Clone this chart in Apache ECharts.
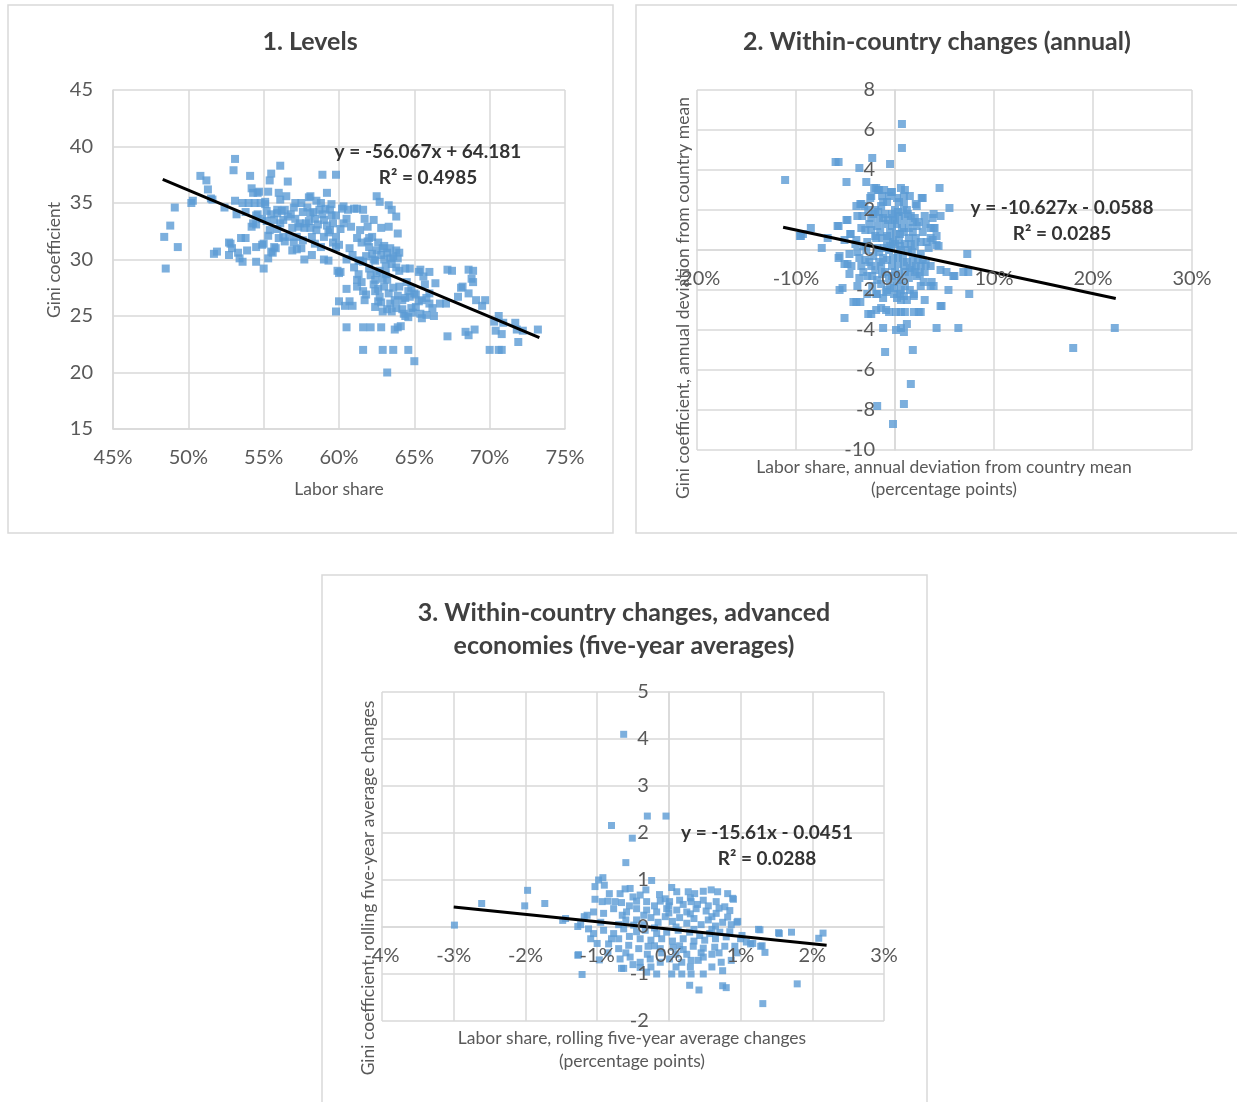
<!DOCTYPE html>
<html>
<head>
<meta charset="utf-8">
<title>Labor share and inequality</title>
<script src="https://cdn.jsdelivr.net/npm/echarts@6/dist/echarts.min.js"></script>
<style>
  html, body { margin: 0; padding: 0; background: #ffffff; }
  #chart { width: 1237px; height: 1102px; }
</style>
</head>
<body>
<div id="chart"></div>
<script>
// ---- Panel 1: levels (labor share %, Gini coefficient) ----
const levelsPoints = [
  [48.4,32.0],[48.5,29.2],[48.8,33.0],[49.1,34.6],[49.3,31.1],[50.2,35.0],[50.3,35.2],[50.8,37.4],[51.2,37.0],[51.3,36.2],
  [51.5,35.4],[51.6,35.3],[51.7,30.5],[51.9,30.7],[52.4,34.6],[52.7,31.5],[52.7,30.4],[52.8,31.4],[52.9,31.0],[53.1,38.9],
  [53.0,37.9],[53.1,35.2],[53.2,34.0],[53.3,30.6],[53.4,30.1],[53.5,31.9],[53.6,29.8],[53.8,31.9],[53.9,30.8],[53.6,35.0],
  [54.0,35.0],[54.4,35.0],[54.8,35.0],[55.1,35.1],[53.8,34.2],[54.1,37.4],[54.2,36.3],[54.3,35.9],[54.6,35.9],[54.2,32.9],
  [54.3,33.2],[54.5,33.9],[54.5,33.1],[54.5,31.1],[54.5,29.8],[54.6,34.0],[54.7,36.0],[54.9,31.3],[55.0,29.2],[55.0,31.4],
  [55.1,34.9],[55.2,34.3],[55.3,30.1],[55.3,32.1],[55.3,36.0],[55.4,37.0],[55.5,37.6],[55.4,32.6],[55.5,30.7],[55.6,30.6],
  [55.7,31.1],[55.7,33.5],[55.8,31.0],[55.9,34.1],[55.9,34.4],[56.1,38.3],[56.0,35.9],[56.1,35.3],[56.0,31.9],[56.1,33.2],
  [56.2,34.3],[56.3,32.0],[56.3,33.5],[56.4,34.4],[56.5,35.6],[56.6,36.9],[56.7,32.0],[56.9,32.8],[56.9,30.8],[57.0,34.6],
  [57.1,35.0],[57.1,33.6],[57.2,30.9],[57.2,32.0],[57.3,32.9],[57.4,33.2],[57.5,31.0],[57.6,31.7],[57.7,30.0],[57.7,32.8],
  [57.8,33.2],[58.0,35.5],[58.1,35.6],[58.1,34.1],[58.1,32.8],[58.2,30.4],[58.2,32.0],[58.3,34.2],[58.4,33.6],[58.4,31.4],
  [58.5,32.6],[58.7,34.4],[58.8,31.1],[58.9,37.5],[59.0,30.0],[59.0,32.0],[59.0,33.5],[59.1,34.5],[59.2,35.9],[59.3,29.9],
  [59.4,34.4],[59.4,32.6],[59.5,33.9],[59.6,33.2],[59.8,37.5],[59.8,32.0],[59.8,31.1],[59.8,33.9],[60.0,31.3],[59.9,29.0],
  [60.0,28.8],[60.1,28.9],[60.0,26.3],[59.8,25.4],[60.2,34.5],[60.3,34.7],[60.3,33.2],[60.5,33.6],[60.4,25.9],[60.5,27.4],
  [60.5,24.0],[60.5,30.0],[60.7,31.0],[60.7,26.3],[60.9,25.9],[61.0,29.3],[61.2,34.5],[61.2,27.6],[61.2,28.2],[61.3,28.7],
  [61.4,32.6],[61.4,29.9],[61.6,34.4],[61.6,29.8],[61.6,27.2],[61.7,26.4],[61.6,24.0],[61.6,22.0],[61.8,26.9],[62.0,31.9],
  [62.0,31.1],[62.1,24.0],[62.2,32.0],[62.3,33.5],[62.4,28.2],[62.4,27.2],[62.4,29.9],[62.5,35.6],[62.5,30.8],[62.5,28.8],
  [62.6,26.3],[62.7,35.1],[62.7,26.7],[62.8,24.0],[62.9,31.0],[62.9,28.3],[62.9,25.4],[62.9,22.0],[63.0,27.6],[63.1,28.7],
  [63.2,20.0],[63.3,34.8],[63.3,32.9],[63.3,27.0],[63.4,30.1],[63.4,26.1],[63.5,34.4],[63.5,25.4],[63.6,22.0],[63.7,23.8],
  [63.8,33.8],[63.8,30.8],[63.8,29.3],[63.8,25.7],[63.9,32.3],[63.9,30.1],[63.9,24.0],[64.0,27.6],[64.1,24.1],[64.2,26.4],
  [64.3,25.2],[64.6,24.9],[64.6,22.0],[64.6,27.2],[64.7,29.2],[64.7,26.7],[64.8,25.7],[65.0,21.0],[65.1,26.9],[65.3,28.9],
  [65.3,26.3],[65.4,29.1],[65.4,25.2],[65.6,28.5],[65.7,27.8],[65.8,25.1],[66.0,28.9],[66.0,26.1],[66.2,25.7],[66.4,27.9],
  [66.7,26.1],[67.1,26.1],[67.2,29.1],[67.2,23.2],[67.5,29.0],[67.9,26.7],[68.1,27.5],[68.2,27.6],[68.4,23.6],[68.6,29.1],
  [68.6,27.0],[68.6,23.3],[68.8,28.3],[68.9,29.0],[68.9,28.0],[69.0,23.8],[69.1,26.4],[69.5,25.9],[69.7,26.4],[70.0,22.0],
  [70.3,24.5],[70.4,23.7],[70.6,25.0],[70.6,22.0],[70.8,22.0],[70.8,23.4],[70.9,24.4],[71.7,24.4],[71.8,23.8],[71.9,22.7],
  [72.2,23.7],[73.2,23.8],
  [62.2,30.5],[62.8,30.4],[63.0,31.2],[63.2,30.6],[63.5,29.6],[63.1,29.4],[62.7,29.0],[63.6,27.5],[63.9,26.8],[62.3,27.8],
  [62.6,27.4],[62.8,26.2],[63.2,25.6],[64.2,25.6],[64.4,25.0],[64.9,25.3],[65.1,25.8],[65.5,26.4],[65.0,27.0],[64.5,28.0],
  [61.8,30.3],[61.5,31.5],[61.9,32.9],[61.2,31.9],[58.6,33.1],[58.9,34.0],[59.2,33.0],[58.0,33.4],[57.6,34.2],[59.6,31.5],
  [55.5,34.0],[54.9,33.6],[55.9,32.7],[56.6,33.8],[57.5,35.0],[58.5,35.2],[59.5,34.9],[60.6,34.4],[61.0,34.5],[60.1,32.7],
  [60.8,32.9],[62.3,30.0],[63.4,31.0],[64.0,30.6],[62.0,29.2],[61.3,29.9],[61.5,28.0],[62.8,32.8],[64.0,29.0],[64.4,26.6],
  [65.5,24.8],[66.3,25.0],[66.0,27.0],
  [56.8,34.0],[57.9,34.6],[58.8,35.0],[59.3,32.4],[57.0,31.5],[55.2,33.4],[56.4,31.6],[62.6,31.5],[63.0,30.0],[63.6,30.3],
  [62.1,28.6],[63.2,28.2],[63.7,26.4],[64.8,27.5],[65.8,26.6],[64.4,29.2],[62.4,25.8],[61.9,31.6],[60.9,30.4],[61.7,33.6]
];
const levelsFit = [-56.067, 64.181, 0.4985];   // slope (per unit share), intercept, R²
const levelsFitRange = [48.3, 73.3];            // labor share, %

// ---- Panel 2: annual deviations from country mean (labor share pp, Gini) ----
const annualPoints = [
  [-11.1,3.5],[-9.6,0.7],[-9.3,0.8],[-8.5,1.1],[-7.4,0.1],[-6.8,0.6],[-6.0,4.4],[-5.7,4.4],[-5.8,1.2],[-5.7,-0.4],
  [-5.6,-2.0],[-5.3,-1.9],[-5.1,-3.4],[-4.9,3.4],[-4.9,1.5],[-4.8,-0.7],[-4.5,0.8],[-4.2,-2.6],[-3.9,2.2],[-3.6,4.1],
  [-3.9,-2.6],[-3.5,-2.6],[-3.5,2.3],[-2.9,3.4],[-2.7,-3.2],[-2.5,2.6],[-2.3,4.6],[-2.1,3.1],[-1.8,-7.8],[-1.7,3.0],
  [-1.2,-3.9],[-1.0,-5.1],[-0.5,4.3],[-0.4,2.9],[-0.2,-8.7],[0.1,-4.0],[0.7,6.3],[0.7,5.1],[0.6,3.1],[0.9,-7.7],
  [0.9,-4.1],[1.0,3.0],[1.2,-3.7],[1.6,-6.7],[1.8,-5.0],[1.9,-2.3],[2.4,-3.1],[2.7,2.6],[3.0,-2.5],[3.6,-1.8],
  [4.2,-3.9],[4.5,3.1],[4.6,1.7],[4.7,-2.8],[5.4,-2.0],[5.5,2.1],[6.0,-1.3],[6.4,-3.9],[7.3,-0.2],[7.5,-2.2],
  [7.4,-1.1],[4.0,1.1],[3.8,0.5],[18.0,-4.9],[22.2,-3.9],
  [-1.9,3.1],[-1.6,3.0],[-1.1,3.0],[-0.3,2.9],[-2.4,2.7],[-1.3,2.7],[-0.6,2.7],[0.2,2.6],[0.9,2.7],[2.8,2.6],
  [-3.4,2.3],[-3.1,2.2],[-1.4,2.2],[-0.8,2.4],[0.9,2.3],[2.1,2.3],[2.2,2.2],[-3.8,1.7],[-3.3,1.7],[-2.4,1.6],
  [-1.6,1.6],[-0.3,1.8],[0.4,1.7],[1.2,2.0],[1.6,1.7],[3.0,1.7],[3.9,1.8],[3.8,1.6],[-4.8,1.5],[-5.7,1.2],
  [-9.5,0.7],[-4.5,0.8],[-3.4,1.1],[-2.4,1.0],[-1.8,1.2],[-1.0,1.3],[-0.3,1.2],[0.2,1.3],[0.7,1.1],[1.4,1.1],
  [2.2,1.2],[3.1,1.3],[3.6,1.1],[3.9,1.1],[-5.1,0.5],[-3.9,0.5],[-2.8,0.4],[-1.9,0.6],[-0.8,0.7],[0.4,0.5],
  [1.4,0.6],[2.6,0.4],[3.6,0.6],[4.2,0.25],[4.4,0.2],[4.2,0.7],[-5.6,-0.3],[-4.6,-0.2],[-3.8,-0.1],[-2.9,0.0],
  [-1.8,0.1],[-0.6,0.0],[0.6,0.0],[1.7,-0.1],[2.6,-0.2],[3.4,0.1],[-5.1,-0.7],[-4.4,-0.8],[-3.4,-0.8],[-2.4,-0.8],
  [-1.4,-0.8],[-0.3,-0.8],[0.9,-0.8],[1.7,-0.9],[2.6,-0.8],[3.6,-0.8],[4.6,-1.0],[5.2,-1.1],[5.9,-1.3],[6.9,-1.1],
  [-4.6,-1.2],[-3.6,-1.4],[-2.8,-1.3],[-1.8,-1.5],[-0.6,-1.4],[0.6,-1.5],[1.4,-1.4],[2.2,-1.3],[2.9,-1.6],[3.7,-1.6],
  [3.9,-1.8],[-3.8,-1.8],[-1.9,-2.2],[-0.9,-2.1],[0.6,-2.0],[1.9,-2.2],[-2.4,-3.2],[-1.9,-3.0],[-1.4,-2.9],[-0.9,-3.0],
  [-0.6,-3.1],[0.1,-3.1],[0.6,-3.1],[1.0,-3.1],[1.9,-3.1],[2.6,-3.1],[0.6,-3.9],[4.6,-2.8],[0.2,-2.4],[0.6,-2.5],
  [0.9,-2.3],[1.2,-2.5],[0.5,-2.2],[-0.1,-2.2],[-0.8,-2.0],[-1.8,-2.2],[-2.3,-1.8],[-1.4,-1.7],
  [-2.0,2.0],[-1.0,1.8],[0.0,2.0],[1.0,1.5],[2.0,1.6],[-2.6,1.3],[-1.5,0.9],[-0.5,0.9],[0.5,0.8],[1.0,0.3],
  [1.8,0.9],[2.8,0.9],[-3.2,0.2],[-2.2,-0.3],[-1.2,-0.4],[-0.2,-0.4],[0.8,-0.4],[1.8,-0.5],[2.8,-0.5],[-2.0,-1.0],
  [-1.0,-1.1],[0.0,-1.1],[1.0,-1.1],[2.0,-1.1],[-0.2,0.4],[0.0,1.5],[-1.2,2.4],[0.4,2.4],[1.5,2.7],[-0.5,-1.8],
  [0.2,-1.6],[1.0,-1.8],[-3.0,-0.5],[-4.0,0.3],[3.0,-1.1],[-0.8,0.2],[0.3,-0.7],[1.3,0.0],[2.3,-0.4],[-1.6,-0.1],
  [-2.7,2.0],[-2.2,1.8],[-1.7,1.9],[-1.2,1.6],[-0.7,1.5],[-0.2,1.6],[0.3,1.9],[0.8,1.9],[1.3,1.8],[1.8,1.4],
  [2.4,1.4],[-3.0,1.0],[-2.0,0.7],[-1.3,0.6],[-0.5,0.5],[0.1,0.8],[0.9,0.9],[1.6,0.3],[2.1,0.6],[3.2,0.4],
  [-3.6,-0.4],[-2.6,-0.6],[-1.6,-0.6],[-0.8,-0.5],[0.3,-0.3],[1.2,-0.6],[2.1,-0.8],[3.1,-0.7],[-3.2,-1.1],[-2.3,-1.3],
  [-1.3,-1.2],[-0.3,-1.3],[0.4,-1.2],[1.5,-1.0],[2.5,-1.2],[-0.1,-1.9],[-1.2,-2.4],[-2.8,-2.2],[1.5,-2.0],[2.6,-1.8],
  [0.0,0.3],[-0.4,0.1],[0.5,0.2],[-1.1,0.1],[2.0,0.2]
];
const annualFit = [-10.627, -0.0588, 0.0285];
const annualFitRange = [-11.3, 22.3];

// ---- Panel 3: advanced economies, rolling five-year average changes ----
const fiveYearPoints = [
  [-2.99,0.04],[-2.61,0.50],[-2.01,0.45],[-1.97,0.78],[-1.73,0.50],[-1.48,0.14],[-1.27,0.01],[-1.27,-0.60],[-1.21,-1.01],[-1.18,0.22],
  [-0.80,2.16],[-0.63,4.10],[-0.51,1.89],[-0.30,2.36],[-0.04,2.36],[-0.24,0.99],[-0.60,1.37],[1.02,-0.18],[1.17,-0.35],[1.27,-0.06],
  [1.54,-0.14],[1.71,-0.11],[1.79,-1.21],[2.09,-0.24],[2.15,-0.13],[1.31,-1.63],[1.34,-0.54],[0.95,0.10],[0.90,0.59],[1.30,-0.40],
  [-1.03,0.86],[-0.98,1.00],[-0.92,1.05],[-0.90,0.89],[-0.83,0.71],[-0.68,0.71],[-0.61,0.81],[-0.54,0.82],[-0.50,0.64],[-0.40,0.68],
  [-0.32,0.79],[-0.13,0.69],[0.04,0.84],[0.11,0.75],[0.27,0.75],[0.36,0.71],[0.48,0.76],[0.59,0.79],[0.68,0.75],[0.82,0.71],
  [0.89,0.61],[-1.03,0.59],[-0.93,0.54],[-0.75,0.54],[-0.66,0.52],[-0.45,0.55],[-0.31,0.54],[-0.12,0.55],[0.01,0.54],[0.15,0.57],
  [0.31,0.54],[0.48,0.57],[0.66,0.54],[0.78,0.43],[-1.23,0.05],[-1.14,0.25],[-1.05,0.32],[-0.91,0.29],[-0.77,0.39],[-0.59,0.32],
  [-0.45,0.39],[-0.31,0.36],[-0.17,0.32],[-0.03,0.39],[0.11,0.36],[0.25,0.32],[0.38,0.39],[0.52,0.34],[0.66,0.29],[0.82,0.21],
  [0.96,0.12],[0.87,0.05],[-1.44,0.18],[-1.12,-0.04],[-1.09,-0.25],[-1.05,-0.14],[-0.91,-0.07],[-0.77,-0.14],[-0.63,-0.04],[-0.49,0.04],
  [-0.33,-0.07],[-0.17,-0.14],[-0.03,-0.11],[0.13,-0.07],[0.29,-0.11],[0.43,-0.18],[0.57,-0.14],[0.71,-0.11],[0.80,-0.21],[1.25,-0.05],
  [1.53,-0.12],[-0.84,-0.36],[-0.70,-0.46],[-0.56,-0.39],[-0.42,-0.46],[-0.29,-0.41],[-0.12,-0.46],[0.06,-0.43],[0.20,-0.48],[0.34,-0.41],
  [0.48,-0.45],[0.64,-0.43],[0.78,-0.41],[0.92,-0.41],[1.08,-0.32],[1.14,-0.36],[1.28,-0.41],[-1.26,-0.59],[-0.97,-0.70],[-0.68,-0.68],
  [-0.54,-0.64],[-0.40,-0.75],[-0.26,-0.68],[-0.12,-0.75],[0.01,-0.68],[0.18,-0.75],[0.31,-0.71],[0.48,-0.64],[0.41,-0.71],[0.73,-0.75],
  [0.87,-0.71],[-0.66,-0.88],[-0.63,-0.88],[-0.40,-0.86],[-0.31,-0.96],[-0.17,-1.00],[0.04,-1.00],[0.18,-1.00],[0.31,-1.00],[0.48,-1.00],
  [0.75,-0.93],[0.29,-1.24],[0.42,-1.34],[0.75,-1.25],[0.80,-1.29],
  [-0.45,0.15],[-0.35,0.05],[-0.25,0.20],[-0.15,0.10],[-0.05,0.22],[0.05,0.12],[0.15,0.20],[0.25,0.08],[0.35,0.18],[0.45,0.05],
  [0.55,0.15],[0.65,0.02],[-0.55,-0.20],[-0.40,-0.25],[-0.25,-0.28],[-0.10,-0.25],[0.05,-0.30],[0.20,-0.25],[0.35,-0.30],[0.50,-0.28],
  [0.65,-0.25],[-0.20,0.45],[0.00,0.45],[0.20,0.48],[0.40,0.48],[-0.60,0.15],[-0.70,0.05],[-0.80,-0.25],[-0.95,0.10],[0.75,0.10],
  [-0.10,-0.55],[0.10,-0.58],[0.25,-0.58],[-0.30,-0.58],[0.60,-0.58],[-0.50,-0.80],[0.10,-0.85],
  [-0.85,0.55],[-0.55,0.45],[-0.05,0.60],[0.30,0.62],[0.55,0.45],[0.70,0.40],[-0.65,0.25],[-0.35,0.25],[0.00,0.30],[0.30,0.28],
  [0.60,0.22],[0.85,0.35],[-1.00,-0.35],[-0.70,-0.25],[-0.45,-0.10],[-0.20,-0.02],[0.10,0.00],[0.35,-0.05],[0.60,-0.05],[0.85,-0.10],
  [1.00,-0.25],[-0.60,-0.55],[-0.20,-0.40],[0.15,-0.40],[0.45,-0.55],[0.70,-0.55],[0.95,-0.55],[-0.85,-0.55],[-0.25,-0.85],[0.30,-0.85],
  [0.60,-0.85]
];
const fiveYearFit = [-15.61, -0.0451, 0.0288];
const fiveYearFitRange = [-3.0, 2.2];

// ---- axis ranges (min, max, step) ----
const levelsX = [45, 75, 5],    levelsY = [15, 45, 5];
const annualX = [-20, 30, 10],  annualY = [-10, 8, 2];
const fiveYearX = [-4, 3, 1],   fiveYearY = [-2, 5, 1];

// ---- styling ----
const FONT = 'Lato, "Open Sans", sans-serif';
const MARKER = '#5b9bd5';
const GRID_LINE = '#d9d9d9';
const LABEL = '#595959';
const TITLE = '#404040';
const EQ = '#333333';

// plot rectangles for the three panels
const grids = [
  { left: 113, top: 90, width: 452, height: 339 },
  { left: 697, top: 90, width: 495, height: 360 },
  { left: 382, top: 692, width: 502, height: 329 }
];

// Regression line end points; x is in percent, the fit uses shares.
function fitLine(fit, range) {
  return range.map(x => [x, fit[0] * x / 100 + fit[1]]);
}
function fitText(fit) {
  const b = fit[1] < 0 ? ' - ' + Math.abs(fit[1]) : ' + ' + fit[1];
  return ['y = ' + fit[0] + 'x' + b, 'R\u00b2 = ' + fit[2]];
}

// Pixel shift that puts an axis on the zero of the crossing axis
// (0 when zero lies outside the range: axis stays on the plot edge).
function zeroShift(len, range) {
  const [min, max] = range;
  if (min > 0 || max < 0) return 0;
  return -len * (0 - min) / (max - min);
}

const lineStyle = { color: GRID_LINE, width: 1.5 };
const labelStyle = { color: LABEL, fontFamily: FONT, fontSize: 20 };

// Axis carrying the grid lines and the axis line (drawn under the marks)
function baseAxis(dim, gridIndex, range, offset) {
  return {
    type: 'value', gridIndex, min: range[0], max: range[1], interval: range[2],
    position: dim === 'x' ? 'bottom' : 'left', offset,
    axisLine: { show: true, onZero: false, lineStyle },
    axisTick: { show: false },
    splitLine: { show: true, lineStyle },
    axisLabel: { show: false },
    z: 0
  };
}
// Axis carrying only the tick labels (drawn above the marks)
function labelAxis(dim, gridIndex, range, offset) {
  return {
    type: 'value', gridIndex, min: range[0], max: range[1], interval: range[2],
    position: dim === 'x' ? 'bottom' : 'left', offset,
    axisLine: { show: false, onZero: false },
    axisTick: { show: false },
    splitLine: { show: false },
    axisLabel: Object.assign({}, labelStyle, dim === 'x'
      ? { margin: 19, formatter: v => v + '%' }
      : { margin: 20 }),
    z: 10
  };
}

const panels = [
  { x: levelsX, y: levelsY },
  { x: annualX, y: annualY },
  { x: fiveYearX, y: fiveYearY }
];
const xAxes = [], yAxes = [];
panels.forEach((p, i) => {
  const g = grids[i];
  const xOff = zeroShift(g.height, p.y);
  const yOff = zeroShift(g.width, p.x);
  xAxes[i] = baseAxis('x', i, p.x, xOff);
  yAxes[i] = baseAxis('y', i, p.y, yOff);
  xAxes[i + 3] = labelAxis('x', i, p.x, xOff);
  yAxes[i + 3] = labelAxis('y', i, p.y, yOff);
});

function scatter(idx, data, size) {
  return {
    type: 'scatter', xAxisIndex: idx, yAxisIndex: idx, data,
    symbol: 'rect', symbolSize: size,
    itemStyle: { color: MARKER }, z: 2
  };
}
function trend(idx, fit, range) {
  return {
    type: 'line', xAxisIndex: idx, yAxisIndex: idx, data: fitLine(fit, range),
    symbol: 'none', lineStyle: { color: '#000000', width: 3 }, z: 3
  };
}

function frame(x, y, w, h) {
  return { type: 'rect', shape: { x, y, width: w, height: h },
           style: { fill: null, stroke: GRID_LINE, lineWidth: 1.5 }, silent: true, z: -1 };
}
function text(x, y, str, opts) {
  return {
    type: 'text', x, y, rotation: (opts && opts.rotation) || 0, silent: true, z: 20,
    style: {
      text: str, textAlign: 'center', textVerticalAlign: 'middle',
      font: (opts && opts.font) || ('17.5px ' + FONT),
      fill: (opts && opts.color) || LABEL
    }
  };
}

const titleFont = 'bold 25px ' + FONT;
const eqFont = 'bold 19px ' + FONT;
const nameFont = '17.5px ' + FONT;
const eq1 = fitText(levelsFit), eq2 = fitText(annualFit), eq3 = fitText(fiveYearFit);

const chart = echarts.init(document.getElementById('chart'), null, { renderer: 'canvas' });
chart.setOption({
  animation: false,
  backgroundColor: '#ffffff',
  grid: grids,
  xAxis: xAxes,
  yAxis: yAxes,
  series: [
    scatter(0, levelsPoints, 8), trend(0, levelsFit, levelsFitRange),
    scatter(1, annualPoints, 8), trend(1, annualFit, annualFitRange),
    scatter(2, fiveYearPoints, 7), trend(2, fiveYearFit, fiveYearFitRange)
  ],
  graphic: [
    frame(8, 5, 605, 528),
    frame(636, 5, 610, 528),
    frame(322, 575, 605, 540),
    text(310, 42, '1. Levels', { font: titleFont, color: TITLE }),
    text(937, 42, '2. Within-country changes (annual)', { font: titleFont, color: TITLE }),
    text(624, 613, '3. Within-country changes, advanced', { font: titleFont, color: TITLE }),
    text(624, 646, 'economies (five-year averages)', { font: titleFont, color: TITLE }),
    text(339, 489, 'Labor share', { font: nameFont }),
    text(54, 260, 'Gini coefficient', { font: nameFont, rotation: Math.PI / 2 }),
    text(944, 467, 'Labor share, annual deviation from country mean', { font: nameFont }),
    text(944, 489, '(percentage points)', { font: nameFont }),
    text(683, 298, 'Gini coefficient, annual deviation from country mean', { font: nameFont, rotation: Math.PI / 2 }),
    text(632, 1038, 'Labor share, rolling five-year average changes', { font: nameFont }),
    text(632, 1061, '(percentage points)', { font: nameFont }),
    text(368, 888, 'Gini coefficient, rolling five-year average changes', { font: nameFont, rotation: Math.PI / 2 }),
    text(428, 152, eq1[0], { font: eqFont, color: EQ }),
    text(428, 178, eq1[1], { font: eqFont, color: EQ }),
    text(1062, 208, eq2[0], { font: eqFont, color: EQ }),
    text(1062, 234, eq2[1], { font: eqFont, color: EQ }),
    text(767, 833, eq3[0], { font: eqFont, color: EQ }),
    text(767, 859, eq3[1], { font: eqFont, color: EQ })
  ]
});
</script>
</body>
</html>
